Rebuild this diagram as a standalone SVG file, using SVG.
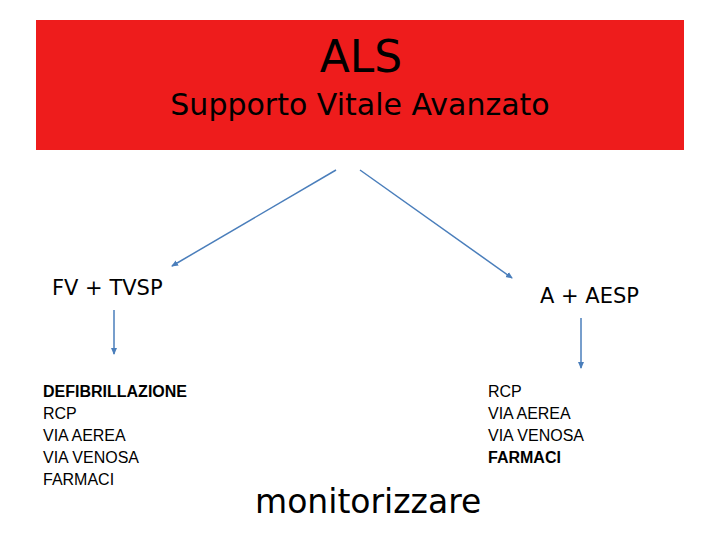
<svg xmlns="http://www.w3.org/2000/svg" width="720" height="540" viewBox="0 0 720 540">
<style>
.t{font-family:"DejaVu Sans",sans-serif;fill:#000}
.l{font-family:"Liberation Sans",Arial,sans-serif;font-size:16px;fill:#000}
.c{stroke:#4a7ebb;stroke-width:1.5;fill:none;marker-end:url(#a)}
</style>
<defs><marker id="a" markerWidth="8" markerHeight="8" refX="6" refY="4" orient="auto" markerUnits="userSpaceOnUse"><path d="M0,1 L7,4 L0,7z" fill="#4a7ebb"/></marker></defs>
<rect width="720" height="540" fill="#fff"/>
<g id="title">
<rect x="36" y="20" width="648" height="130" fill="#ee1c1c"/>
<text class="t" x="361" y="72" font-size="44" text-anchor="middle">ALS</text>
<text class="t" x="360" y="115" font-size="30" text-anchor="middle">Supporto Vitale Avanzato</text>
</g>
<g id="connectors">
<line class="c" x1="336" y1="170" x2="172" y2="266"/>
<line class="c" x1="360" y1="170" x2="512" y2="278"/>
<line class="c" x1="114" y1="310" x2="114" y2="354"/>
<line class="c" x1="581" y1="318" x2="581" y2="368"/>
</g>
<g id="fv"><text class="t" x="52" y="295" font-size="21">FV + TVSP</text></g>
<g id="a-aesp"><text class="t" x="540" y="303" font-size="21">A + AESP</text></g>
<g id="left-list">
<text class="l" x="43" y="397" font-weight="bold">DEFIBRILLAZIONE</text>
<text class="l" x="43" y="419">RCP</text>
<text class="l" x="43" y="441">VIA AEREA</text>
<text class="l" x="43" y="463">VIA VENOSA</text>
<text class="l" x="43" y="485">FARMACI</text>
</g>
<g id="right-list">
<text class="l" x="488" y="397">RCP</text>
<text class="l" x="488" y="419">VIA AEREA</text>
<text class="l" x="488" y="441">VIA VENOSA</text>
<text class="l" x="488" y="463" font-weight="bold">FARMACI</text>
</g>
<g id="monitor"><text class="t" x="255" y="513" font-size="33">monitorizzare</text></g>
</svg>
